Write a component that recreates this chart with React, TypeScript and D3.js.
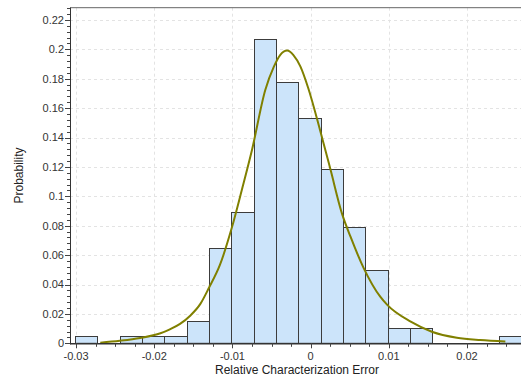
import React from "react";
import * as d3 from "d3";

const binEdges = [
  -0.03013, -0.027275, -0.02442, -0.021565, -0.01871, -0.015855, -0.013, -0.010145,
  -0.00729, -0.004435, -0.00158, 0.001275, 0.00413, 0.006985, 0.00984, 0.012695,
  0.01555, 0.018405, 0.02126, 0.024115, 0.02697,
];
const binProb = [
  0.0052, 0, 0.0052, 0.0052, 0.0052, 0.0155, 0.0648, 0.0893, 0.2073, 0.1776,
  0.1531, 0.1188, 0.0793, 0.0497, 0.0104, 0.0104, 0, 0, 0, 0.0052,
];
const fitX = [
  -0.0269, -0.0244, -0.0218, -0.0192, -0.018, -0.0167, -0.0154, -0.0141, -0.013, -0.0116, -0.0101,
  -0.0088, -0.0075, -0.0058, -0.0047, -0.0039, -0.003, -0.0022, -0.0013, -0.0003, 0.0012,
  0.0025, 0.004, 0.0051, 0.0068, 0.0089, 0.0098, 0.0128, 0.0155, 0.0187, 0.0217, 0.0249,
];
const fitY = [
  0.0004, 0.0017, 0.0036, 0.0068, 0.0095, 0.0132, 0.0188, 0.0268, 0.0378, 0.0533, 0.0782,
  0.1043, 0.1315, 0.1723, 0.1882, 0.1961, 0.1992, 0.1961, 0.1882, 0.1735, 0.1451,
  0.119, 0.0884, 0.0725, 0.051, 0.0317, 0.0261, 0.0147, 0.0079, 0.0038, 0.0022, 0.0012,
];
const xTicks = [-0.03, -0.02, -0.01, 0, 0.01, 0.02];
const xTickLabels = ["-0.03", "-0.02", "-0.01", "0", "0.01", "0.02"];
const yTicks = [0, 0.02, 0.04, 0.06, 0.08, 0.1, 0.12, 0.14, 0.16, 0.18, 0.2, 0.22];
const yTickLabels = ["0", "0.02", "0.04", "0.06", "0.08", "0.1", "0.12", "0.14", "0.16", "0.18", "0.2", "0.22"];
const xTitle = "Relative Characterization Error";
const yTitle = "Probability";

const W = 521;
const H = 379;
const left = 70;
const right = 526;
const top = 7.7;
const bottom = 343.3;

export default function App() {
  const x = d3.scaleLinear().domain([-0.03077, 0.02754]).range([left, right]);
  const y = d3.scaleLinear().domain([0, 0.2283]).range([bottom, top]);
  const font = "'Liberation Sans', Arial, sans-serif";

  const xMinor = d3.range(-0.0325, 0.0276, 0.0025).filter((v) => x(v) >= left && x(v) <= W);
  const yMinor = d3.range(0, 0.2283, 0.004);

  const line = d3
    .line<number>()
    .x((_, i) => x(fitX[i]))
    .y((d) => y(d))
    .curve(d3.curveMonotoneX);

  const bars = binProb.map((p, i) => ({ x0: binEdges[i], x1: binEdges[i + 1], p }));

  return (
    <svg
      width={W}
      height={H}
      style={{ position: "absolute", left: 0, top: 0, background: "#fff" }}
      fontFamily={font}
    >
      <defs>
        <clipPath id="plot">
          <rect x={left} y={top} width={right - left} height={bottom - top} />
        </clipPath>
      </defs>
      {/* grid */}
      <g stroke="#e3e3e3" strokeDasharray="3,3" strokeWidth={1}>
        {xTicks.map((t) => (
          <line key={"gx" + t} x1={Math.round(x(t)) + 0.5} x2={Math.round(x(t)) + 0.5} y1={top} y2={bottom} />
        ))}
        {yTicks.slice(1).map((t) => (
          <line key={"gy" + t} x1={left} x2={right} y1={Math.round(y(t)) + 0.5} y2={Math.round(y(t)) + 0.5} />
        ))}
      </g>
      {/* bars */}
      <g clipPath="url(#plot)">
        {bars
          .filter((b) => b.p > 0)
          .map((b, i) => {
            const x0 = Math.round(x(b.x0)) + 0.5;
            const x1 = Math.round(x(b.x1)) + 0.5;
            const yt = Math.round(y(b.p)) + 0.5;
            return (
              <rect
                key={i}
                x={x0}
                y={yt}
                width={x1 - x0}
                height={bottom - yt}
                fill="#cce4fa"
                stroke="#3c3c3c"
                strokeWidth={1}
              />
            );
          })}
        <path d={line(fitY) || ""} fill="none" stroke="#808000" strokeWidth={2} />
      </g>
      {/* frame */}
      <line x1={left} x2={W} y1={top} y2={top} stroke="#666" strokeWidth={1} />
      <line x1={left + 0.5} x2={left + 0.5} y1={top} y2={bottom + 1} stroke="#333" strokeWidth={1} />
      <line x1={left} x2={W} y1={bottom + 0.5} y2={bottom + 0.5} stroke="#333" strokeWidth={1.6} />
      {/* ticks */}
      <g stroke="#444" strokeWidth={1}>
        {yMinor.map((t, i) => (
          <line key={"ym" + i} x1={left - 3} x2={left} y1={Math.round(y(t)) + 0.5} y2={Math.round(y(t)) + 0.5} />
        ))}
        {yTicks.map((t) => (
          <line key={"yt" + t} x1={left - 5} x2={left} y1={Math.round(y(t)) + 0.5} y2={Math.round(y(t)) + 0.5} />
        ))}
        {xMinor.map((t, i) => (
          <line key={"xm" + i} x1={Math.round(x(t)) + 0.5} x2={Math.round(x(t)) + 0.5} y1={bottom} y2={bottom + 3.5} />
        ))}
        {xTicks.map((t) => (
          <line key={"xt" + t} x1={Math.round(x(t)) + 0.5} x2={Math.round(x(t)) + 0.5} y1={bottom} y2={bottom + 5} />
        ))}
      </g>
      <g fontSize={11} fill="#333">
        {yTicks.map((t, i) => (
          <text key={"yl" + t} x={left - 6} y={y(t)} dy="0.35em" textAnchor="end">
            {yTickLabels[i]}
          </text>
        ))}
        {xTicks.map((t, i) => (
          <text key={"xl" + t} x={x(t)} y={bottom + 17} textAnchor="middle">
            {xTickLabels[i]}
          </text>
        ))}
      </g>
      <text x={297} y={374} fontSize={12} fill="#222" textAnchor="middle">
        {xTitle}
      </text>
      <text
        transform={`translate(23,${(top + bottom) / 2}) rotate(-90)`}
        fontSize={12}
        fill="#222"
        textAnchor="middle"
      >
        {yTitle}
      </text>
    </svg>
  );
}
